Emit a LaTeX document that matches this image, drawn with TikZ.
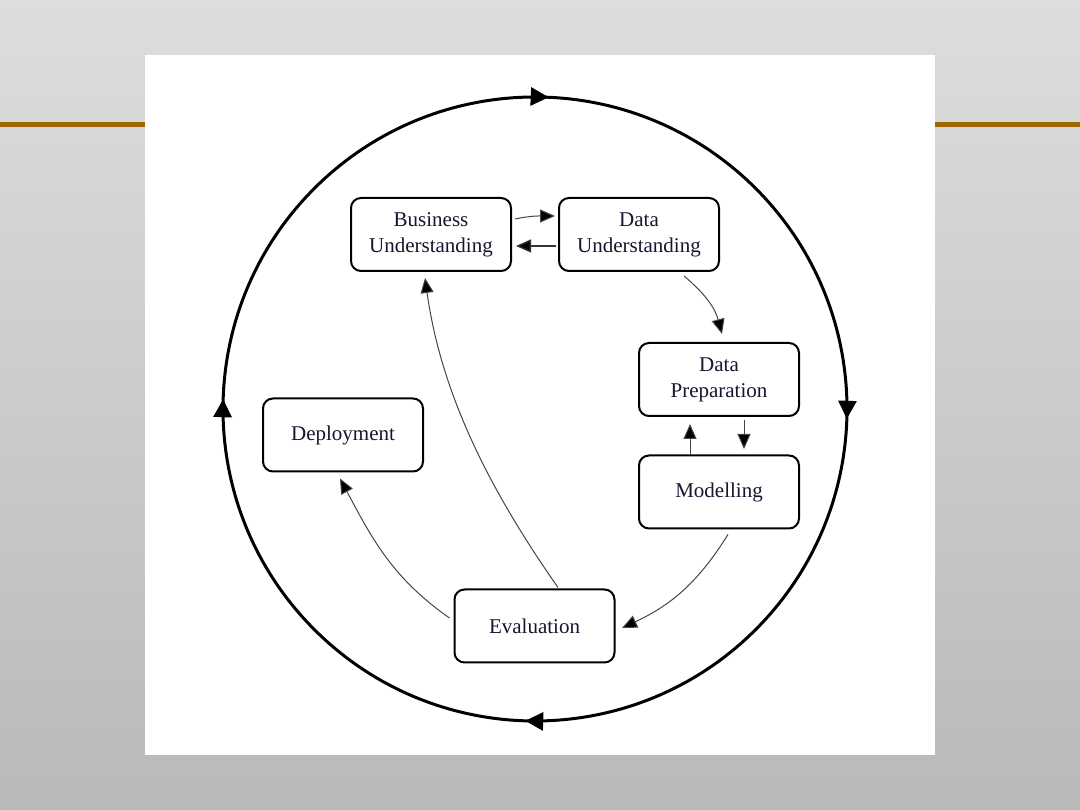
\documentclass[tikz,border=0pt]{standalone}
\usepackage{fontspec}
\setmainfont{Liberation Serif}
\usetikzlibrary{arrows.meta,calc,decorations.markings}
\definecolor{bgtop}{RGB}{221,221,221}
\definecolor{bgbot}{RGB}{185,185,185}
\definecolor{barcol}{RGB}{158,104,0}
\definecolor{txtcol}{RGB}{22,22,48}
\definecolor{thin}{RGB}{70,70,70}
\tikzset{
  stage/.style={draw=black, line width=2pt, rounded corners=10pt, fill=white,
    minimum width=160pt, minimum height=73pt, inner sep=0pt, align=center,
    text=txtcol, font=\fontsize{21}{26}\selectfont},
  flow/.style={draw=thin, line width=1pt, -{Triangle[length=15pt,width=13pt,fill=black]}},
  cycle/.style={line width=3pt, draw=black,
    decoration={markings,
      mark=at position 0.130 with {\arrow{Triangle[length=18pt,width=18pt]}},
      mark=at position 0.382 with {\arrow{Triangle[length=18pt,width=18pt]}},
      mark=at position 0.630 with {\arrow{Triangle[length=18pt,width=18pt]}},
      mark=at position 0.880 with {\arrow{Triangle[length=18pt,width=18pt]}}},
    postaction={decorate}}
}
\begin{document}
\begin{tikzpicture}[x=1pt,y=1pt]
\useasboundingbox (0,0) rectangle (1080,810);
\shade[top color=bgtop, bottom color=bgbot] (0,0) rectangle (1080,810);
\fill[barcol] (0,683) rectangle (1080,688);
\fill[white] (145,55) rectangle (935,755);

\coordinate (C) at (535,401);
\draw[cycle] ($(C)+(225:312)$) arc[start angle=225, end angle=-135, radius=312];

\node[stage] (BU) at (431,575.5) {Business\\Understanding};
\node[stage] (DU) at (639,575.5) {Data\\Understanding};
\node[stage] (DP) at (719,430.5) {Data\\Preparation};
\node[stage] (MO) at (719,318) {Modelling};
\node[stage] (DE) at (343,375) {Deployment};
\node[stage] (EV) at (534.5,184) {Evaluation};

\draw[flow] ($(BU.east)+(3,15.5)$) to[out=12,in=180] ($(DU.west)+(-3,18.5)$);
\draw[flow, line width=1.4pt, draw=black!80] ($(DU.west)+(-2,-11.5)$) -- ($(BU.east)+(4,-11.5)$);
\draw[flow] ($(DU.south)+(45,-4)$) to[out=-40,in=105] ($(DP.north)+(3,8)$);
\draw[flow] ($(DP.south)+(25,-3)$) -- ($(MO.north)+(25,5.5)$);
\draw[flow] ($(MO.north)+(-29,0)$) -- ($(DP.south)+(-29,-7)$);
\draw[flow] ($(MO.south)+(9,-5)$) to[out=-122,in=25] ($(EV.east)+(6.5,-2)$);
\draw[flow] ($(EV.north)+(23.5,1)$) to[out=125,in=-82,looseness=0.9] ($(BU.south)+(-6,-6)$);
\draw[flow] ($(EV.west)+(-4,8)$) to[out=145,in=-62] ($(DE.south)+(-3,-6)$);
\end{tikzpicture}
\end{document}
